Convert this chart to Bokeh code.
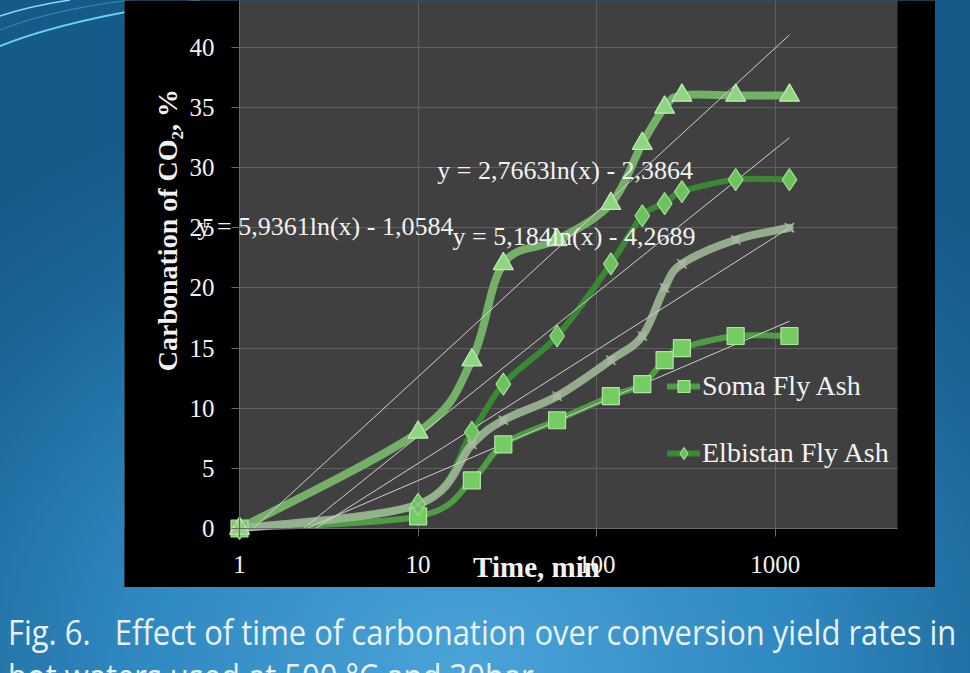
import numpy as np
from bokeh.plotting import figure
from bokeh.models import (Range1d, FixedTicker, Label, Legend, LegendItem, Div,
                          ColumnDataSource, NumeralTickFormatter)
from bokeh.layouts import column
from bokeh.embed import file_html
from bokeh.resources import INLINE

# ---- data -------------------------------------------------------------
time_min = [1, 10, 20, 30, 60, 120, 180, 240, 300, 600, 1200]
soma = [0, 1, 4, 7, 9, 11, 12, 14, 15, 16, 16]
elbistan = [0, 2, 8, 12, 16, 22, 26, 27, 28, 29, 29]
series_tri = [0, 8, 14, 22, 24, 27, 32, 35, 36, 36, 36]
series_cross = [0, 2, 7, 9, 11, 14, 16, 20, 22, 24, 25]

# logarithmic trendlines y = a ln(x) + b
trend_soma = (2.7663, -2.3864)
trend_elbistan = (5.184, -4.2689)
trend_tri = (5.9361, -1.0584)

x_ticks = [1, 10, 100, 1000]
y_ticks = [0, 5, 10, 15, 20, 25, 30, 35, 40]

# ---- geometry of the chart panel ---------------------------------------
PANEL_W, PANEL_H = 811, 587          # black chart panel, px
AREA_L, AREA_R = 115, 773            # plot area inside the panel, px
AREA_T, AREA_B = 0, 528
PX_DECADE = 178.6                    # px per decade on the time axis
PX_UNIT = 12.03                      # px per % on the value axis
X_MIN = 1.0
X_MAX = X_MIN * 10 ** ((AREA_R - AREA_L) / PX_DECADE)
Y_MIN = 0.0
Y_MAX = (AREA_B - AREA_T) / PX_UNIT

x_lo = X_MIN * 10 ** (-AREA_L / PX_DECADE)
x_hi = X_MAX * 10 ** ((PANEL_W - AREA_R) / PX_DECADE)
y_lo = Y_MIN - (PANEL_H - AREA_B) / PX_UNIT
y_hi = Y_MAX + AREA_T / PX_UNIT

SERIF = "Liberation Serif"
TXT = "#f2f2f2"
GRID = "#5e5e5e"


def smooth_segments(xs, ys):
    """Cubic Bezier pieces (Catmull-Rom style) in log-x space."""
    u = np.log10(np.asarray(xs, float))
    y = np.asarray(ys, float)
    n = len(u)
    d = dict(x0=[], y0=[], x1=[], y1=[], cx0=[], cy0=[], cx1=[], cy1=[])
    for i in range(n - 1):
        ip, inx = max(i - 1, 0), min(i + 2, n - 1)
        c0u = u[i] + (u[i + 1] - u[ip]) / 6.0
        c0y = y[i] + (y[i + 1] - y[ip]) / 6.0
        c1u = u[i + 1] - (u[inx] - u[i]) / 6.0
        c1y = y[i + 1] - (y[inx] - y[i]) / 6.0
        d["x0"].append(10 ** u[i]); d["y0"].append(y[i])
        d["x1"].append(10 ** u[i + 1]); d["y1"].append(y[i + 1])
        d["cx0"].append(10 ** c0u); d["cy0"].append(c0y)
        d["cx1"].append(10 ** c1u); d["cy1"].append(c1y)
    return ColumnDataSource(d)


def eq_text(coef):
    a, b = coef
    sign = "-" if b < 0 else "+"
    return f"y = {a}ln(x) {sign} {abs(b)}".replace(".", ",")


p = figure(width=PANEL_W, height=PANEL_H, x_axis_type="log",
           x_range=Range1d(x_lo, x_hi), y_range=Range1d(y_lo, y_hi),
           output_backend="svg", toolbar_location=None,
           min_border_left=0, min_border_right=0,
           min_border_top=0, min_border_bottom=0,
           background_fill_color="#404040", border_fill_color="black",
           outline_line_color=None, margin=(0, 0, 0, 124))

# axes pinned to the edges of the plot area
p.xaxis.fixed_location = Y_MIN
p.xaxis.bounds = (X_MIN, X_MAX)
p.yaxis.fixed_location = X_MIN
p.yaxis.bounds = (Y_MIN, Y_MAX)
p.xaxis.ticker = FixedTicker(ticks=x_ticks)
p.xaxis.formatter = NumeralTickFormatter(format="0")
p.yaxis.ticker = FixedTicker(ticks=y_ticks)
for ax in p.axis:
    ax.major_label_text_font = SERIF
    ax.major_label_text_font_size = "25px"
    ax.major_label_text_color = TXT
    ax.axis_line_color = "#6a6a6a"
    ax.major_tick_line_color = "#6a6a6a"
    ax.major_tick_out = 8
    ax.major_tick_in = 0
    ax.minor_tick_line_color = None
p.yaxis.major_label_standoff = 17
p.xaxis.major_label_standoff = 19
p.xgrid.grid_line_color = GRID
p.ygrid.grid_line_color = GRID

# black surround of the plot area (hides grid lines outside it)
p.quad(left=[x_lo, x_lo, X_MAX], right=[X_MIN, x_hi, x_hi],
       bottom=[y_lo, y_lo, y_lo], top=[y_hi, Y_MIN, y_hi],
       fill_color="black", line_color=None)

styles = [
    (soma, "#4f9c45", 6, 1.0, "square", 17, "#74cc62", "#aee6a0"),
    (elbistan, "#3b8834", 6, 1.0, "diamond", 22, "#6cc25c", "#a3dc95"),
    (series_tri, "#74b068", 8, 1.0, "triangle", 20, "#8ed681", "#c0ecb4"),
    (series_cross, "#9db896", 8, 0.9, "x", 13, None, "#a9b9a4"),
]

curve_renderers = []
for vals, lc, lw, la, *_ in styles:
    src = smooth_segments(time_min, vals)
    r = p.bezier(x0="x0", y0="y0", x1="x1", y1="y1", cx0="cx0", cy0="cy0",
                 cx1="cx1", cy1="cy1", source=src, line_color=lc,
                 line_width=lw, line_alpha=la, line_cap="round")
    curve_renderers.append(r)

# trendlines: straight on a log-x axis, spanning the measured times
t_lo, t_hi = min(time_min), max(time_min)
cross_fit = tuple(np.polyfit(np.log(time_min), series_cross, 1))
for coef in (trend_soma, trend_elbistan, trend_tri, cross_fit):
    a, b = coef
    ys = [max(a * np.log(t) + b, Y_MIN) for t in (t_lo, t_hi)]
    ts = [np.exp((Y_MIN - b) / a) if a * np.log(t_lo) + b < Y_MIN else t_lo, t_hi]
    p.line(ts, ys, line_color="#cfcfcf", line_width=1)

marker_renderers = []
for vals, lc, lw, la, mk, ms, mf, ml in styles:
    if mk == "x":
        r = p.scatter(time_min, vals, marker=mk, size=ms, line_color=ml,
                      line_width=1.5)
    else:
        r = p.scatter(time_min, vals, marker=mk, size=ms,
                      fill_color=mf, line_color=ml, line_width=1.2)
    marker_renderers.append(r)

legend = Legend(items=[
    LegendItem(label="Soma Fly Ash", renderers=[curve_renderers[0], marker_renderers[0]]),
    LegendItem(label="Elbistan Fly Ash", renderers=[curve_renderers[1], marker_renderers[1]]),
], location=(543, 118), background_fill_alpha=0, border_line_color=None,
    label_text_font=SERIF, label_text_font_size="28px", label_text_color=TXT,
    glyph_width=33, glyph_height=30, label_height=30, label_standoff=2,
    spacing=35, padding=0, margin=0)
p.add_layout(legend, "center")

# trendline equations
for coef, xl, yl in ((trend_tri, 0.582, 25.1),
                     (trend_elbistan, 15.6, 24.3),
                     (trend_soma, 12.8, 29.8)):
    p.add_layout(Label(x=xl, y=yl, text=eq_text(coef), text_font=SERIF,
                       text_font_size="26px", text_color=TXT,
                       text_baseline="middle", text_align="left"))

# axis titles
p.add_layout(Label(x=46.0, y=-3.2, text="Time, min", text_font=SERIF,
                   text_font_style="bold", text_font_size="29px",
                   text_color=TXT, text_align="center", text_baseline="middle"))
p.add_layout(Label(x=0.395, y=24.8, text="Carbonation of CO\u2082, %",
                   text_font=SERIF, text_font_style="bold",
                   text_font_size="28px", text_color=TXT, angle=np.pi / 2,
                   text_align="center", text_baseline="middle"))

caption = Div(
    text=('<div style="white-space:nowrap;font-family:\'Open Sans\';'
          'font-size:35px;line-height:44px;color:#e8f2fa;'
          'transform:scaleX(0.885);transform-origin:0 0;">'
          'Fig. 6.&nbsp;&nbsp; Effect of time of carbonation over conversion '
          'yield rates in<br>hot waters used at 500 &deg;C and 30bar</div>'),
    width=970, height=86, margin=(23, 0, 0, 8))

decor = ("url(\"data:image/svg+xml;utf8,<svg xmlns='http://www.w3.org/2000/svg' "
         "width='260' height='80'>"
         "<path d='M0,46 Q70,18 200,0' stroke='%2366d4ec' stroke-width='2' fill='none'/>"
         "<path d='M0,16 Q30,6 70,0' stroke='%2380e0f0' stroke-width='1.5' fill='none'/>"
         "<path d='M0,30 Q50,10 130,0' stroke='%2340a8d0' stroke-width='1' fill='none' opacity='0.7'/>"
         "</svg>\") no-repeat 0 0")
page = column(p, caption, width=970, height=673, spacing=0,
              styles={"background": decor + ", radial-gradient(ellipse 75% 90% at 48% 100%, "
                      "#4aa4d8 0%, #2f89c1 45%, #1c6699 80%, #165a8a 100%)",
                      "overflow": "hidden"})

open("out.html", "w").write(file_html(page, INLINE))
